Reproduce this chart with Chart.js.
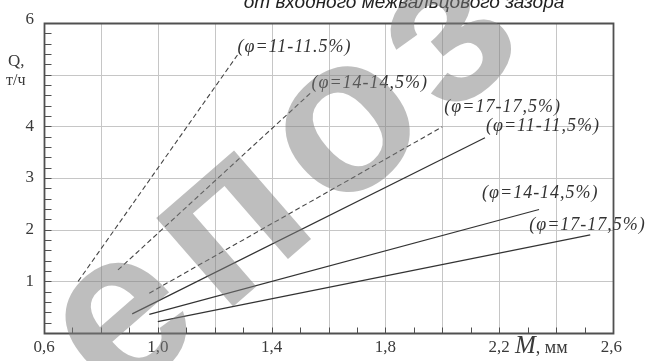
<!DOCTYPE html>
<html><head><meta charset="utf-8">
<script src="https://cdn.jsdelivr.net/npm/chart.js@4/dist/chart.umd.min.js"></script>
<style>html,body{margin:0;padding:0;background:#fff}#wrap{width:652px;height:361px;position:relative}</style>
</head><body><div id="wrap"><canvas id="c" width="652" height="361"></canvas></div>
<script>
// ---- data ----
const seriesLabels = ["(φ=11-11.5%)","(φ=14-14,5%)","(φ=17-17,5%)","(φ=11-11,5%)","(φ=14-14,5%)","(φ=17-17,5%)"];
const seriesX = [[0.72,1.28],[0.86,1.54],[0.97,2.0],[0.91,2.15],[0.97,2.34],[1.0,2.52]];
const seriesY = [[1.0,5.38],[1.22,4.66],[0.77,3.99],[0.37,3.78],[0.36,2.39],[0.22,1.9]];
const xTickValues = [0.6,1.0,1.4,1.8,2.2,2.6];
const xTickLabels = ["0,6","1,0","1,4","1,8","2,2","2,6"];
const yTickValues = [1,2,3,4,6];
const yTickLabels = ["1","2","3","4","6"];
const xAxisTitle = ["М",", мм"];
const yAxisTitle = ["Q,","т/ч"];
const chartTitle = "от входного межвальцового зазора";
const watermark = "епоз";

// ---- styles ----
const dashed = [true,true,true,false,false,false];
const labelOffsets = [[0,-8],[0,-9],[2,-20],[1,-11],[-57,-16],[-61,-10]];
const SERIF = '"Liberation Serif","Times New Roman",serif';
const SANS = '"Liberation Sans",Arial,sans-serif';
const X_MINOR = 0.1, X_GRID = 0.2, Y_MINOR = 0.2, Y_GRID = 1;

const datasets = seriesX.map((xs,i)=>({
  label: seriesLabels[i],
  data: xs.map((x,j)=>({x:x, y:seriesY[i][j]})),
  borderColor: dashed[i] ? '#454545' : '#333333',
  borderWidth: dashed[i] ? 1.1 : 1.2,
  borderDash: dashed[i] ? [5,3] : [],
  pointRadius: 0, fill:false, tension:0
}));

function steps(min, max, step){
  const out = []; const n = Math.round((max-min)/step);
  for (let k=1;k<n;k++) out.push(min + k*step);
  return out;
}

const gridPlugin = {
  id:'gridPlugin',
  beforeDatasetsDraw(chart){
    const ctx = chart.ctx, a = chart.chartArea, xs = chart.scales.x, ys = chart.scales.y;
    ctx.save();
    ctx.strokeStyle = '#c6c6c6'; ctx.lineWidth = 1;
    ctx.beginPath();
    steps(xs.min, xs.max, X_GRID).forEach(v=>{
      const px = Math.round(xs.getPixelForValue(v))+0.5;
      ctx.moveTo(px, a.top); ctx.lineTo(px, a.bottom);
    });
    steps(ys.min, ys.max, Y_GRID).forEach(v=>{
      const py = Math.round(ys.getPixelForValue(v))+0.5;
      ctx.moveTo(a.left, py); ctx.lineTo(a.right, py);
    });
    ctx.stroke();
    ctx.restore();
  }
};

const overlay = {
  id:'overlay',
  afterDraw(chart){
    const ctx = chart.ctx, a = chart.chartArea, xs = chart.scales.x, ys = chart.scales.y;
    ctx.save();
    // frame
    const L = Math.round(a.left)+0.5, R = Math.round(a.right)+0.5, T = Math.round(a.top)+0.5, B = Math.round(a.bottom)+0.5;
    ctx.strokeStyle = '#505050'; ctx.lineWidth = 1.8;
    ctx.beginPath();
    ctx.moveTo(L,T); ctx.lineTo(R,T); ctx.lineTo(R,B); ctx.lineTo(L,B); ctx.closePath();
    ctx.stroke();
    // inward minor ticks
    ctx.lineWidth = 1; ctx.strokeStyle = '#505050';
    ctx.beginPath();
    steps(xs.min, xs.max, X_MINOR).forEach(v=>{
      const px = Math.round(xs.getPixelForValue(v))+0.5;
      ctx.moveTo(px, B); ctx.lineTo(px, B-6);
    });
    steps(ys.min, ys.max, Y_MINOR).forEach(v=>{
      const py = Math.round(ys.getPixelForValue(v))+0.5;
      ctx.moveTo(L, py); ctx.lineTo(L+7, py);
    });
    ctx.stroke();
    // x tick labels
    ctx.fillStyle = '#3a3a3a';
    ctx.font = '17px ' + SERIF;
    ctx.textBaseline = 'alphabetic';
    xTickValues.forEach((v,i)=>{
      const px = xs.getPixelForValue(v);
      if (i === xTickValues.length-1){ ctx.textAlign='right'; ctx.fillText(xTickLabels[i], px+9, 352); }
      else { ctx.textAlign='center'; ctx.fillText(xTickLabels[i], px, 352); }
    });
    // x axis title
    ctx.textAlign = 'left';
    ctx.font = 'italic 25px ' + SERIF;
    const mx = 515;
    ctx.fillText(xAxisTitle[0], mx, 353);
    const mw = ctx.measureText(xAxisTitle[0]).width;
    ctx.font = '18px ' + SERIF;
    ctx.fillText(xAxisTitle[1], mx+mw, 353);
    // y tick labels
    ctx.font = '17px ' + SERIF;
    ctx.textAlign = 'right'; ctx.textBaseline = 'middle';
    yTickValues.forEach((v,i)=>{
      let py = ys.getPixelForValue(v);
      if (v === ys.max) py -= 3;
      ctx.fillText(yTickLabels[i], 34, py);
    });
    // y axis title
    ctx.textAlign = 'left';
    ctx.font = '17px ' + SERIF;
    ctx.fillText(yAxisTitle[0], 8, 62);
    ctx.font = '16px ' + SERIF;
    ctx.fillText(yAxisTitle[1], 6, 81);
    // series labels
    ctx.fillStyle = '#333';
    ctx.font = 'italic 18px ' + SERIF;
    ctx.textAlign = 'left'; ctx.textBaseline = 'middle';
    try { ctx.letterSpacing = '1px'; } catch(e){}
    seriesLabels.forEach((lab,i)=>{
      const px = xs.getPixelForValue(seriesX[i][1]);
      const py = ys.getPixelForValue(seriesY[i][1]);
      ctx.fillText(lab, px + labelOffsets[i][0], py + labelOffsets[i][1]);
    });
    try { ctx.letterSpacing = '0px'; } catch(e){}
    // title (cut at top)
    ctx.fillStyle = '#222';
    ctx.font = 'italic 19px ' + SANS;
    ctx.textAlign = 'center'; ctx.textBaseline = 'alphabetic';
    ctx.fillText(chartTitle, 404, 8);
    // watermark
    ctx.save();
    ctx.translate(292, 180);
    ctx.rotate(-41*Math.PI/180);
    ctx.fillStyle = 'rgba(125,125,125,0.5)';
    ctx.font = 'bold 222px ' + SANS;
    try { ctx.letterSpacing = '16px'; } catch(e){}
    ctx.textAlign = 'center'; ctx.textBaseline = 'alphabetic';
    ctx.fillText(watermark, 0, 57);
    try { ctx.letterSpacing = '0px'; } catch(e){}
    ctx.restore();
    ctx.restore();
  }
};

new Chart(document.getElementById('c'), {
  type: 'line',
  data: { datasets: datasets },
  options: {
    responsive: false, animation: false, devicePixelRatio: 1,
    layout: { padding: { left: 44, right: 39, top: 23, bottom: 28 } },
    plugins: { legend: { display:false }, tooltip: { enabled:false }, title: { display:false } },
    scales: {
      x: { type:'linear', min:0.6, max:2.6, display:false },
      y: { type:'linear', min:0, max:6, display:false }
    }
  },
  plugins: [gridPlugin, overlay]
});
</script>
</body></html>
